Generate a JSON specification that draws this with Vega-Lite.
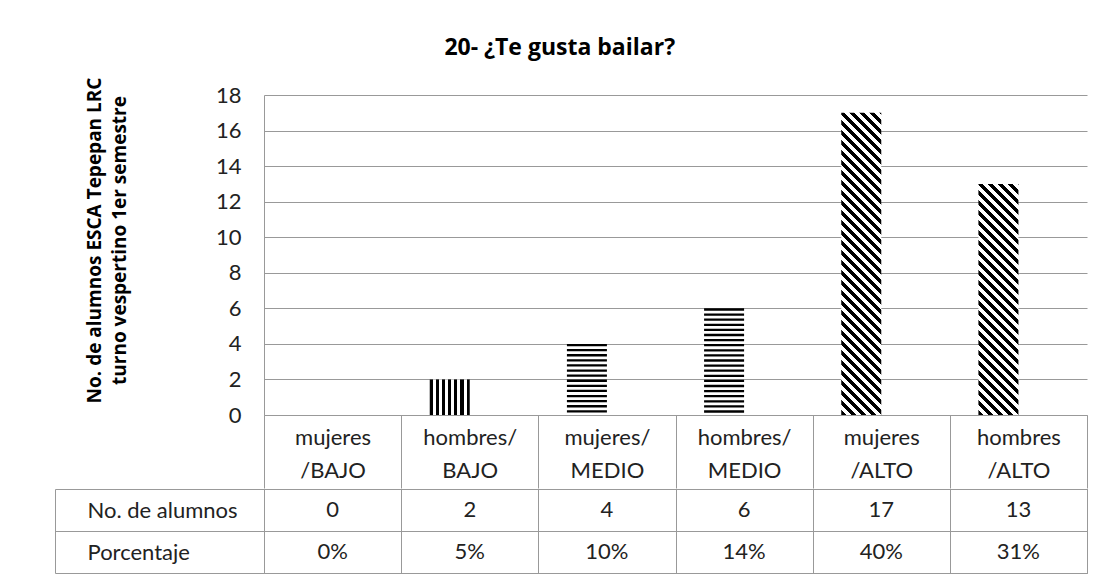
{
  "$schema": "https://vega.github.io/schema/vega-lite/v6.json",
  "background": "white",
  "padding": {"left": 54, "top": 37, "right": 15, "bottom": 5},
  "title": {"text": "20- ¿Te gusta bailar?", "font": "Open Sans", "fontSize": 23, "fontWeight": "bold", "color": "#000000", "anchor": "middle", "offset": 17, "dx": -11},
  "config": {"view": {"stroke": null}, "font": "Lato"},
  "data": {"values": [
    {"cat": "mujeres /BAJO", "alumnos": 0, "porcentaje": 0},
    {"cat": "hombres/ BAJO", "alumnos": 2, "porcentaje": 0.05},
    {"cat": "mujeres/ MEDIO", "alumnos": 4, "porcentaje": 0.10},
    {"cat": "hombres/ MEDIO", "alumnos": 6, "porcentaje": 0.14},
    {"cat": "mujeres /ALTO", "alumnos": 17, "porcentaje": 0.40},
    {"cat": "hombres /ALTO", "alumnos": 13, "porcentaje": 0.31}
  ]},
  "spacing": -12,
  "vconcat": [
    {
      "width": 823,
      "height": 320,
      "encoding": {
        "x": {"field": "cat", "type": "nominal", "sort": null,
          "scale": {"domain": ["mujeres /BAJO", "hombres/ BAJO", "mujeres/ MEDIO", "hombres/ MEDIO", "mujeres /ALTO", "hombres /ALTO"], "paddingInner": 0, "paddingOuter": 0},
          "axis": {"orient": "bottom", "title": null, "domain": true, "domainColor": "#999999", "ticks": true, "tickBand": "extent", "tickSize": 73, "tickColor": "#999999", "labelPadding": -61, "labelExpr": "split(datum.label, ' ')", "labelFont": "Lato", "labelFontSize": 22, "labelColor": "#222222", "labelLineHeight": 33, "labelOverlap": false, "labelAngle": 0, "grid": false}},
        "xOffset": {"datum": "No. de alumnos", "type": "nominal", "scale": {"domain": ["No. de alumnos", "Porcentaje"], "paddingInner": 0, "paddingOuter": 0.7146}},
        "y": {"field": "alumnos", "type": "quantitative", "scale": {"domain": [0, 18], "nice": false},
          "axis": {"title": ["No. de alumnos ESCA Tepepan LRC", "turno vespertino 1er  semestre"], "values": [0, 2, 4, 6, 8, 10, 12, 14, 16, 18], "grid": true, "gridColor": "#999999", "domain": true, "domainColor": "#999999", "ticks": false, "labelPadding": 23, "labelFont": "Lato", "labelFontSize": 22, "labelColor": "#222222", "titleFont": "Open Sans", "titleFontSize": 19, "titleFontWeight": "bold", "titleColor": "#000000", "titleLineHeight": 25, "titleX": -160, "titleY": 145}}
      },
      "layer": [
        {"transform": [{"filter": "datum.cat == 'mujeres /BAJO' || datum.cat == 'hombres/ BAJO'"}],
         "mark": {"type": "bar", "fill": {"gradient": "linear", "x1": 0, "y1": 0, "x2": 1, "y2": 0, "stops": [
          {"offset": 0, "color": "#000"}, {"offset": 0.08, "color": "#000"}, {"offset": 0.08, "color": "#fff"}, {"offset": 0.1533, "color": "#fff"},
          {"offset": 0.1533, "color": "#000"}, {"offset": 0.2333, "color": "#000"}, {"offset": 0.2333, "color": "#fff"}, {"offset": 0.3067, "color": "#fff"},
          {"offset": 0.3067, "color": "#000"}, {"offset": 0.3867, "color": "#000"}, {"offset": 0.3867, "color": "#fff"}, {"offset": 0.46, "color": "#fff"},
          {"offset": 0.46, "color": "#000"}, {"offset": 0.54, "color": "#000"}, {"offset": 0.54, "color": "#fff"}, {"offset": 0.6133, "color": "#fff"},
          {"offset": 0.6133, "color": "#000"}, {"offset": 0.6933, "color": "#000"}, {"offset": 0.6933, "color": "#fff"}, {"offset": 0.7667, "color": "#fff"},
          {"offset": 0.7667, "color": "#000"}, {"offset": 0.8467, "color": "#000"}, {"offset": 0.8467, "color": "#fff"}, {"offset": 0.92, "color": "#fff"},
          {"offset": 0.92, "color": "#000"}, {"offset": 1, "color": "#000"}]}}},
        {"transform": [{"filter": "datum.cat == 'mujeres/ MEDIO' || datum.cat == 'hombres/ MEDIO'"}],
         "mark": {"type": "rule", "strokeWidth": 40, "strokeDash": [2.3, 2.8], "color": "#000000"},
         "encoding": {"y2": {"datum": 0}}},
        {"transform": [{"filter": "datum.cat == 'mujeres /ALTO'"}],
         "mark": {"type": "bar", "fill": {"gradient": "linear", "x1": 0, "y1": 1, "x2": 0.17219, "y2": -0.3009, "stops": [
          {"offset": 0, "color": "#000"}, {"offset": 0.0125, "color": "#000"}, {"offset": 0.0125, "color": "#fff"}, {"offset": 0.025, "color": "#fff"},
          {"offset": 0.025, "color": "#000"}, {"offset": 0.0375, "color": "#000"}, {"offset": 0.0375, "color": "#fff"}, {"offset": 0.05, "color": "#fff"},
          {"offset": 0.05, "color": "#000"}, {"offset": 0.0625, "color": "#000"}, {"offset": 0.0625, "color": "#fff"}, {"offset": 0.075, "color": "#fff"},
          {"offset": 0.075, "color": "#000"}, {"offset": 0.0875, "color": "#000"}, {"offset": 0.0875, "color": "#fff"}, {"offset": 0.1, "color": "#fff"},
          {"offset": 0.1, "color": "#000"}, {"offset": 0.1125, "color": "#000"}, {"offset": 0.1125, "color": "#fff"}, {"offset": 0.125, "color": "#fff"},
          {"offset": 0.125, "color": "#000"}, {"offset": 0.1375, "color": "#000"}, {"offset": 0.1375, "color": "#fff"}, {"offset": 0.15, "color": "#fff"},
          {"offset": 0.15, "color": "#000"}, {"offset": 0.1625, "color": "#000"}, {"offset": 0.1625, "color": "#fff"}, {"offset": 0.175, "color": "#fff"},
          {"offset": 0.175, "color": "#000"}, {"offset": 0.1875, "color": "#000"}, {"offset": 0.1875, "color": "#fff"}, {"offset": 0.2, "color": "#fff"},
          {"offset": 0.2, "color": "#000"}, {"offset": 0.2125, "color": "#000"}, {"offset": 0.2125, "color": "#fff"}, {"offset": 0.225, "color": "#fff"},
          {"offset": 0.225, "color": "#000"}, {"offset": 0.2375, "color": "#000"}, {"offset": 0.2375, "color": "#fff"}, {"offset": 0.25, "color": "#fff"},
          {"offset": 0.25, "color": "#000"}, {"offset": 0.2625, "color": "#000"}, {"offset": 0.2625, "color": "#fff"}, {"offset": 0.275, "color": "#fff"},
          {"offset": 0.275, "color": "#000"}, {"offset": 0.2875, "color": "#000"}, {"offset": 0.2875, "color": "#fff"}, {"offset": 0.3, "color": "#fff"},
          {"offset": 0.3, "color": "#000"}, {"offset": 0.3125, "color": "#000"}, {"offset": 0.3125, "color": "#fff"}, {"offset": 0.325, "color": "#fff"},
          {"offset": 0.325, "color": "#000"}, {"offset": 0.3375, "color": "#000"}, {"offset": 0.3375, "color": "#fff"}, {"offset": 0.35, "color": "#fff"},
          {"offset": 0.35, "color": "#000"}, {"offset": 0.3625, "color": "#000"}, {"offset": 0.3625, "color": "#fff"}, {"offset": 0.375, "color": "#fff"},
          {"offset": 0.375, "color": "#000"}, {"offset": 0.3875, "color": "#000"}, {"offset": 0.3875, "color": "#fff"}, {"offset": 0.4, "color": "#fff"},
          {"offset": 0.4, "color": "#000"}, {"offset": 0.4125, "color": "#000"}, {"offset": 0.4125, "color": "#fff"}, {"offset": 0.425, "color": "#fff"},
          {"offset": 0.425, "color": "#000"}, {"offset": 0.4375, "color": "#000"}, {"offset": 0.4375, "color": "#fff"}, {"offset": 0.45, "color": "#fff"},
          {"offset": 0.45, "color": "#000"}, {"offset": 0.4625, "color": "#000"}, {"offset": 0.4625, "color": "#fff"}, {"offset": 0.475, "color": "#fff"},
          {"offset": 0.475, "color": "#000"}, {"offset": 0.4875, "color": "#000"}, {"offset": 0.4875, "color": "#fff"}, {"offset": 0.5, "color": "#fff"},
          {"offset": 0.5, "color": "#000"}, {"offset": 0.5125, "color": "#000"}, {"offset": 0.5125, "color": "#fff"}, {"offset": 0.525, "color": "#fff"},
          {"offset": 0.525, "color": "#000"}, {"offset": 0.5375, "color": "#000"}, {"offset": 0.5375, "color": "#fff"}, {"offset": 0.55, "color": "#fff"},
          {"offset": 0.55, "color": "#000"}, {"offset": 0.5625, "color": "#000"}, {"offset": 0.5625, "color": "#fff"}, {"offset": 0.575, "color": "#fff"},
          {"offset": 0.575, "color": "#000"}, {"offset": 0.5875, "color": "#000"}, {"offset": 0.5875, "color": "#fff"}, {"offset": 0.6, "color": "#fff"},
          {"offset": 0.6, "color": "#000"}, {"offset": 0.6125, "color": "#000"}, {"offset": 0.6125, "color": "#fff"}, {"offset": 0.625, "color": "#fff"},
          {"offset": 0.625, "color": "#000"}, {"offset": 0.6375, "color": "#000"}, {"offset": 0.6375, "color": "#fff"}, {"offset": 0.65, "color": "#fff"},
          {"offset": 0.65, "color": "#000"}, {"offset": 0.6625, "color": "#000"}, {"offset": 0.6625, "color": "#fff"}, {"offset": 0.675, "color": "#fff"},
          {"offset": 0.675, "color": "#000"}, {"offset": 0.6875, "color": "#000"}, {"offset": 0.6875, "color": "#fff"}, {"offset": 0.7, "color": "#fff"},
          {"offset": 0.7, "color": "#000"}, {"offset": 0.7125, "color": "#000"}, {"offset": 0.7125, "color": "#fff"}, {"offset": 0.725, "color": "#fff"},
          {"offset": 0.725, "color": "#000"}, {"offset": 0.7375, "color": "#000"}, {"offset": 0.7375, "color": "#fff"}, {"offset": 0.75, "color": "#fff"},
          {"offset": 0.75, "color": "#000"}, {"offset": 0.7625, "color": "#000"}, {"offset": 0.7625, "color": "#fff"}, {"offset": 0.775, "color": "#fff"},
          {"offset": 0.775, "color": "#000"}, {"offset": 0.7875, "color": "#000"}, {"offset": 0.7875, "color": "#fff"}, {"offset": 0.8, "color": "#fff"},
          {"offset": 0.8, "color": "#000"}, {"offset": 0.8125, "color": "#000"}, {"offset": 0.8125, "color": "#fff"}, {"offset": 0.825, "color": "#fff"},
          {"offset": 0.825, "color": "#000"}, {"offset": 0.8375, "color": "#000"}, {"offset": 0.8375, "color": "#fff"}, {"offset": 0.85, "color": "#fff"},
          {"offset": 0.85, "color": "#000"}, {"offset": 0.8625, "color": "#000"}, {"offset": 0.8625, "color": "#fff"}, {"offset": 0.875, "color": "#fff"}]}}},
        {"transform": [{"filter": "datum.cat == 'hombres /ALTO'"}],
         "mark": {"type": "bar", "fill": {"gradient": "linear", "x1": 0, "y1": 1, "x2": 0.29087, "y2": -0.6805, "stops": [
          {"offset": 0, "color": "#000"}, {"offset": 0.0125, "color": "#000"}, {"offset": 0.0125, "color": "#fff"}, {"offset": 0.025, "color": "#fff"},
          {"offset": 0.025, "color": "#000"}, {"offset": 0.0375, "color": "#000"}, {"offset": 0.0375, "color": "#fff"}, {"offset": 0.05, "color": "#fff"},
          {"offset": 0.05, "color": "#000"}, {"offset": 0.0625, "color": "#000"}, {"offset": 0.0625, "color": "#fff"}, {"offset": 0.075, "color": "#fff"},
          {"offset": 0.075, "color": "#000"}, {"offset": 0.0875, "color": "#000"}, {"offset": 0.0875, "color": "#fff"}, {"offset": 0.1, "color": "#fff"},
          {"offset": 0.1, "color": "#000"}, {"offset": 0.1125, "color": "#000"}, {"offset": 0.1125, "color": "#fff"}, {"offset": 0.125, "color": "#fff"},
          {"offset": 0.125, "color": "#000"}, {"offset": 0.1375, "color": "#000"}, {"offset": 0.1375, "color": "#fff"}, {"offset": 0.15, "color": "#fff"},
          {"offset": 0.15, "color": "#000"}, {"offset": 0.1625, "color": "#000"}, {"offset": 0.1625, "color": "#fff"}, {"offset": 0.175, "color": "#fff"},
          {"offset": 0.175, "color": "#000"}, {"offset": 0.1875, "color": "#000"}, {"offset": 0.1875, "color": "#fff"}, {"offset": 0.2, "color": "#fff"},
          {"offset": 0.2, "color": "#000"}, {"offset": 0.2125, "color": "#000"}, {"offset": 0.2125, "color": "#fff"}, {"offset": 0.225, "color": "#fff"},
          {"offset": 0.225, "color": "#000"}, {"offset": 0.2375, "color": "#000"}, {"offset": 0.2375, "color": "#fff"}, {"offset": 0.25, "color": "#fff"},
          {"offset": 0.25, "color": "#000"}, {"offset": 0.2625, "color": "#000"}, {"offset": 0.2625, "color": "#fff"}, {"offset": 0.275, "color": "#fff"},
          {"offset": 0.275, "color": "#000"}, {"offset": 0.2875, "color": "#000"}, {"offset": 0.2875, "color": "#fff"}, {"offset": 0.3, "color": "#fff"},
          {"offset": 0.3, "color": "#000"}, {"offset": 0.3125, "color": "#000"}, {"offset": 0.3125, "color": "#fff"}, {"offset": 0.325, "color": "#fff"},
          {"offset": 0.325, "color": "#000"}, {"offset": 0.3375, "color": "#000"}, {"offset": 0.3375, "color": "#fff"}, {"offset": 0.35, "color": "#fff"},
          {"offset": 0.35, "color": "#000"}, {"offset": 0.3625, "color": "#000"}, {"offset": 0.3625, "color": "#fff"}, {"offset": 0.375, "color": "#fff"},
          {"offset": 0.375, "color": "#000"}, {"offset": 0.3875, "color": "#000"}, {"offset": 0.3875, "color": "#fff"}, {"offset": 0.4, "color": "#fff"},
          {"offset": 0.4, "color": "#000"}, {"offset": 0.4125, "color": "#000"}, {"offset": 0.4125, "color": "#fff"}, {"offset": 0.425, "color": "#fff"},
          {"offset": 0.425, "color": "#000"}, {"offset": 0.4375, "color": "#000"}, {"offset": 0.4375, "color": "#fff"}, {"offset": 0.45, "color": "#fff"},
          {"offset": 0.45, "color": "#000"}, {"offset": 0.4625, "color": "#000"}, {"offset": 0.4625, "color": "#fff"}, {"offset": 0.475, "color": "#fff"},
          {"offset": 0.475, "color": "#000"}, {"offset": 0.4875, "color": "#000"}, {"offset": 0.4875, "color": "#fff"}, {"offset": 0.5, "color": "#fff"},
          {"offset": 0.5, "color": "#000"}, {"offset": 0.5125, "color": "#000"}, {"offset": 0.5125, "color": "#fff"}, {"offset": 0.525, "color": "#fff"},
          {"offset": 0.525, "color": "#000"}, {"offset": 0.5375, "color": "#000"}, {"offset": 0.5375, "color": "#fff"}, {"offset": 0.55, "color": "#fff"},
          {"offset": 0.55, "color": "#000"}, {"offset": 0.5625, "color": "#000"}, {"offset": 0.5625, "color": "#fff"}, {"offset": 0.575, "color": "#fff"},
          {"offset": 0.575, "color": "#000"}, {"offset": 0.5875, "color": "#000"}, {"offset": 0.5875, "color": "#fff"}, {"offset": 0.6, "color": "#fff"},
          {"offset": 0.6, "color": "#000"}, {"offset": 0.6125, "color": "#000"}, {"offset": 0.6125, "color": "#fff"}, {"offset": 0.625, "color": "#fff"},
          {"offset": 0.625, "color": "#000"}, {"offset": 0.6375, "color": "#000"}, {"offset": 0.6375, "color": "#fff"}, {"offset": 0.65, "color": "#fff"},
          {"offset": 0.65, "color": "#000"}, {"offset": 0.6625, "color": "#000"}, {"offset": 0.6625, "color": "#fff"}, {"offset": 0.675, "color": "#fff"},
          {"offset": 0.675, "color": "#000"}, {"offset": 0.6875, "color": "#000"}, {"offset": 0.6875, "color": "#fff"}, {"offset": 0.7, "color": "#fff"}]}}}
      ]
    },
    {
      "width": 823,
      "height": 84,
      "view": {"stroke": "#999999", "strokeWidth": 1},
      "encoding": {
        "x": {"field": "cat", "type": "nominal", "sort": null,
          "scale": {"domain": ["mujeres /BAJO", "hombres/ BAJO", "mujeres/ MEDIO", "hombres/ MEDIO", "mujeres /ALTO", "hombres /ALTO"], "paddingInner": 0, "paddingOuter": 0},
          "axis": {"title": null, "labels": false, "ticks": false, "domain": false, "grid": true, "tickBand": "extent", "gridColor": "#999999"}}
      },
      "layer": [
        {"mark": {"type": "text", "font": "Lato", "fontSize": 22, "color": "#222222"},
         "encoding": {
           "y": {"datum": "No. de alumnos", "type": "nominal", "scale": {"domain": ["No. de alumnos", "Porcentaje"], "paddingInner": 0, "paddingOuter": 0},
             "axis": {"orient": "left", "title": null, "domain": false, "ticks": true, "tickBand": "extent", "tickSize": 209, "tickColor": "#999999", "grid": true, "gridColor": "#999999", "labelAlign": "left", "labelPadding": -32, "labelFont": "Lato", "labelFontSize": 22, "labelColor": "#222222", "labelBaseline": "middle"}},
           "text": {"field": "alumnos", "type": "quantitative"}}},
        {"mark": {"type": "text", "font": "Lato", "fontSize": 22, "color": "#222222"},
         "encoding": {
           "y": {"datum": "Porcentaje", "type": "nominal",
             "axis": {"orient": "left", "title": null, "offset": 209, "labels": false, "ticks": false, "grid": false, "domain": true, "domainColor": "#999999"}},
           "text": {"field": "porcentaje", "type": "quantitative", "format": ".0%"}}}
      ],
      "resolve": {"axis": {"y": "independent"}}
    }
  ]
}
